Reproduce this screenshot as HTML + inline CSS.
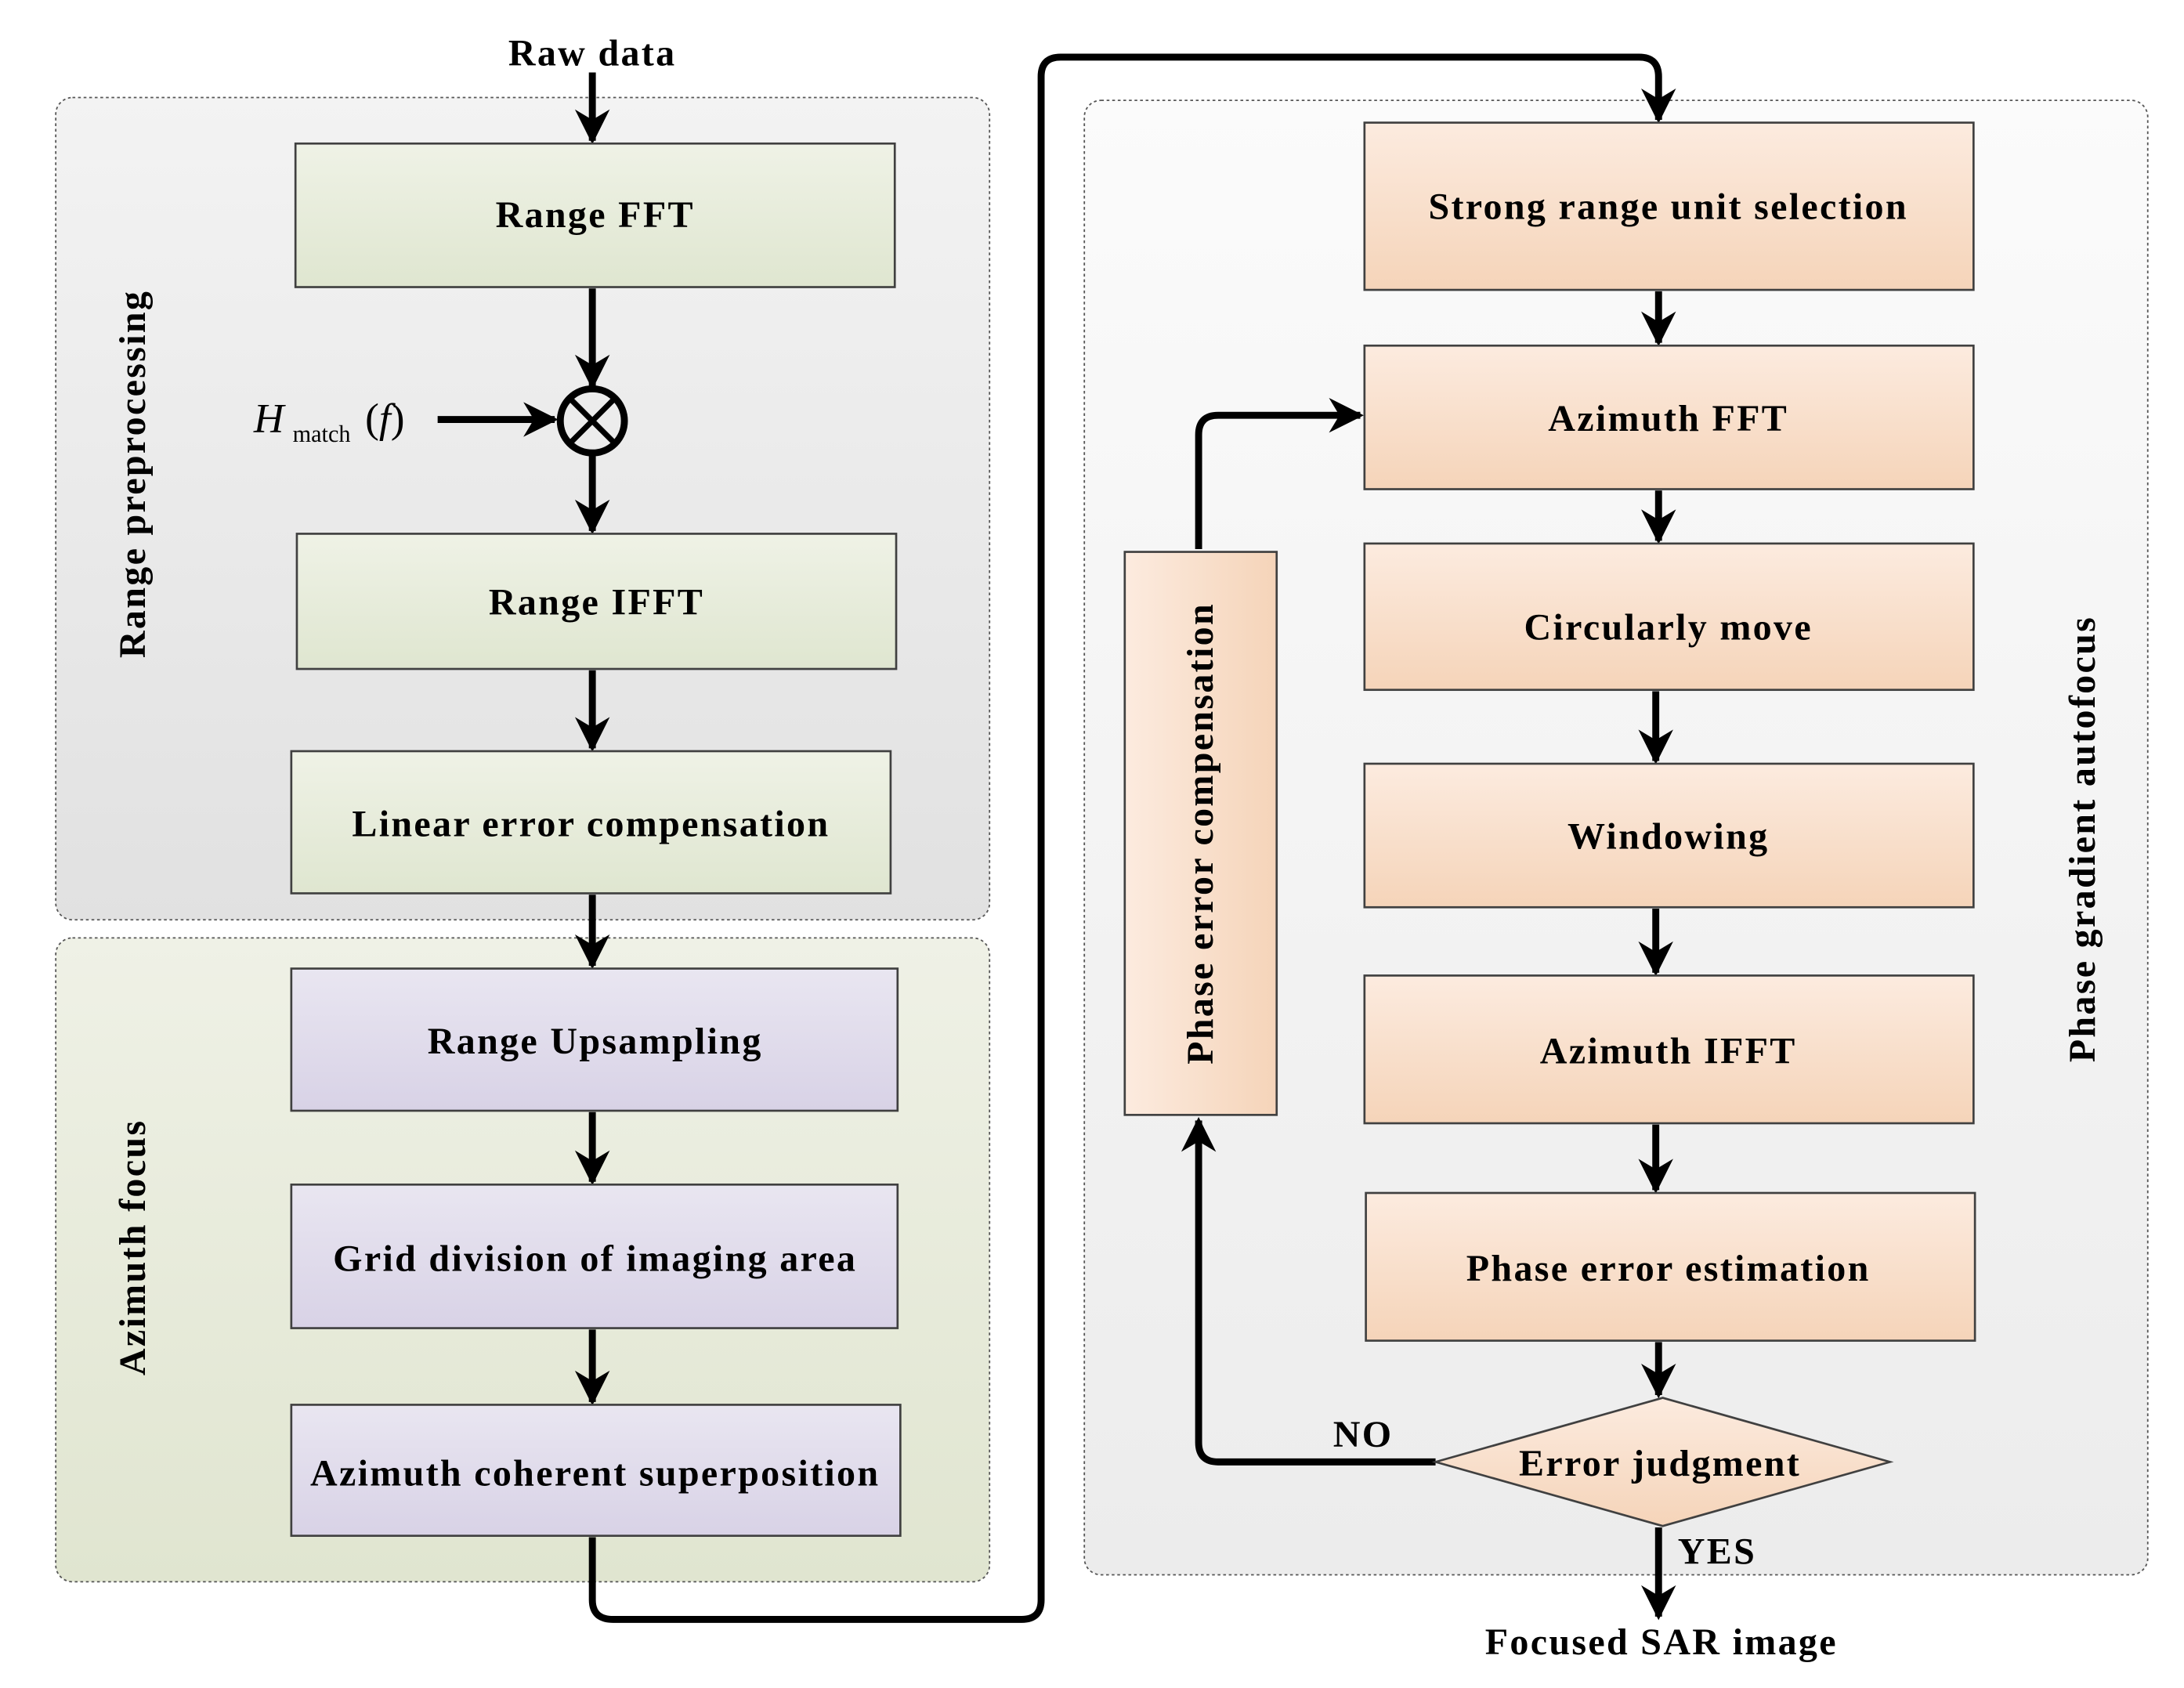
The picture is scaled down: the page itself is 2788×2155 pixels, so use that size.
<!DOCTYPE html>
<html><head><meta charset="utf-8"><style>html,body{margin:0;padding:0;background:#fff}svg{display:block}</style></head>
<body>
<svg width="2788" height="2155" viewBox="0 0 1567 1211" preserveAspectRatio="xMinYMin meet" xmlns="http://www.w3.org/2000/svg" font-family="'Liberation Serif', serif">
<defs>
<linearGradient id="g1" x1="0" y1="0" x2="0" y2="1"><stop offset="0" stop-color="#f3f3f3"/><stop offset="1" stop-color="#e1e1e1"/></linearGradient>
<linearGradient id="g2" x1="0" y1="0" x2="0" y2="1"><stop offset="0" stop-color="#eff1e6"/><stop offset="1" stop-color="#e0e5d0"/></linearGradient>
<linearGradient id="g3" x1="0" y1="0" x2="0" y2="1"><stop offset="0" stop-color="#fbfbfb"/><stop offset="1" stop-color="#ececec"/></linearGradient>
<linearGradient id="gb" x1="0" y1="0" x2="0" y2="1"><stop offset="0" stop-color="#eff2e6"/><stop offset="1" stop-color="#dfe6d0"/></linearGradient>
<linearGradient id="pb" x1="0" y1="0" x2="0" y2="1"><stop offset="0" stop-color="#e9e6f1"/><stop offset="1" stop-color="#d8d2e6"/></linearGradient>
<linearGradient id="ob" x1="0" y1="0" x2="0" y2="1"><stop offset="0" stop-color="#fcebdf"/><stop offset="1" stop-color="#f5d4b9"/></linearGradient>
<linearGradient id="oh" x1="0" y1="0" x2="1" y2="0"><stop offset="0" stop-color="#fcebdf"/><stop offset="1" stop-color="#f5d4b9"/></linearGradient>
<marker id="a" viewBox="0 0 10 10" refX="9" refY="5" markerWidth="5" markerHeight="5" orient="auto" markerUnits="strokeWidth"><path d="M0,0 L10,5 L0,10 L3,5 z" fill="#000"/></marker>
</defs>
<rect x="40" y="70" width="670" height="590" rx="12" fill="url(#g1)" stroke="#555" stroke-width="1" stroke-dasharray="2,2"/>
<rect x="40" y="673" width="670" height="462" rx="12" fill="url(#g2)" stroke="#555" stroke-width="1" stroke-dasharray="2,2"/>
<rect x="778" y="72" width="763" height="1058" rx="12" fill="url(#g3)" stroke="#555" stroke-width="1" stroke-dasharray="2,2"/>

<g stroke="#000" stroke-width="5" fill="none" marker-end="url(#a)">
<line x1="425" y1="52" x2="425" y2="101"/>
<line x1="425" y1="207" x2="425" y2="277"/>
<line x1="314" y1="301" x2="398" y2="301"/>
<line x1="425" y1="326" x2="425" y2="381"/>
<line x1="425" y1="481" x2="425" y2="537"/>
<line x1="425" y1="642" x2="425" y2="693"/>
<line x1="425" y1="798" x2="425" y2="848"/>
<line x1="425" y1="954" x2="425" y2="1006"/>
<path d="M425,1103 L425,1148 Q425,1162 440,1162 L733,1162 Q747,1162 747,1148 L747,55 Q747,41 761,41 L1176,41 Q1190,41 1190,55 L1190,86"/>
<line x1="1190" y1="209" x2="1190" y2="246"/>
<line x1="1190" y1="352" x2="1190" y2="388"/>
<line x1="1188" y1="496" x2="1188" y2="546"/>
<line x1="1188" y1="652" x2="1188" y2="698"/>
<line x1="1188" y1="807" x2="1188" y2="854"/>
<line x1="1190" y1="963" x2="1190" y2="1001"/>
<line x1="1190" y1="1096" x2="1190" y2="1160"/>
<path d="M1030,1049 L874,1049 Q860,1049 860,1035 L860,804"/>
<path d="M860,394 L860,312 Q860,298 874,298 L976,298"/>
</g>

<g stroke="#404040" stroke-width="1.5">
<rect x="212" y="103" width="430" height="103" fill="url(#gb)"/>
<rect x="213" y="383" width="430" height="97" fill="url(#gb)"/>
<rect x="209" y="539" width="430" height="102" fill="url(#gb)"/>
<rect x="209" y="695" width="435" height="102" fill="url(#pb)"/>
<rect x="209" y="850" width="435" height="103" fill="url(#pb)"/>
<rect x="209" y="1008" width="437" height="94" fill="url(#pb)"/>
<rect x="979" y="88" width="437" height="120" fill="url(#ob)"/>
<rect x="979" y="248" width="437" height="103" fill="url(#ob)"/>
<rect x="979" y="390" width="437" height="105" fill="url(#ob)"/>
<rect x="979" y="548" width="437" height="103" fill="url(#ob)"/>
<rect x="979" y="700" width="437" height="106" fill="url(#ob)"/>
<rect x="980" y="856" width="437" height="106" fill="url(#ob)"/>
<rect x="807" y="396" width="109" height="404" fill="url(#oh)"/>
<polygon points="1030,1049 1193,1003 1356,1049 1193,1095" fill="url(#ob)"/>
</g>
<circle cx="425" cy="302" r="23" fill="none" stroke="#000" stroke-width="5"/>
<line x1="409" y1="286" x2="441" y2="318" stroke="#000" stroke-width="4"/>
<line x1="441" y1="286" x2="409" y2="318" stroke="#000" stroke-width="4"/>

<g font-weight="bold" font-size="27" text-anchor="middle" fill="#000" letter-spacing="1.3">
<text x="425" y="47">Raw data</text>
<text x="427" y="163">Range FFT</text>
<text x="428" y="441">Range IFFT</text>
<text x="424" y="600">Linear error compensation</text>
<text x="427" y="756">Range Upsampling</text>
<text x="427" y="912">Grid division of imaging area</text>
<text x="427" y="1066">Azimuth coherent superposition</text>
<text x="1197" y="157">Strong range unit selection</text>
<text x="1197" y="309">Azimuth FFT</text>
<text x="1197" y="459">Circularly move</text>
<text x="1197" y="609">Windowing</text>
<text x="1197" y="763">Azimuth IFFT</text>
<text x="1197" y="919">Phase error estimation</text>
<text x="1191" y="1059">Error judgment</text>
<text x="978" y="1038">NO</text>
<text x="1232" y="1122">YES</text>
<text x="1192" y="1187">Focused SAR image</text>
<text transform="translate(104,340) rotate(-90)">Range preprocessing</text>
<text transform="translate(104,895) rotate(-90)">Azimuth focus</text>
<text transform="translate(870,598) rotate(-90)">Phase error compensation</text>
<text transform="translate(1503,602) rotate(-90)">Phase gradient autofocus</text>
</g>
<text x="182" y="310" font-size="30" font-style="italic">H</text>
<text x="210" y="317" font-size="17">match</text>
<text x="262" y="310" font-size="30">(<tspan font-style="italic">f</tspan>)</text>
</svg>
</body></html>
